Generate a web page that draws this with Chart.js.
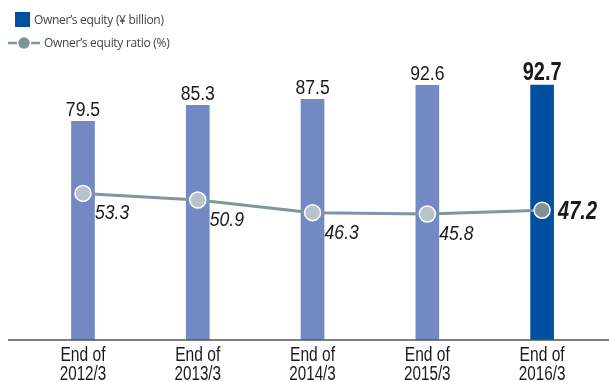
<!DOCTYPE html>
<html>
<head>
<meta charset="utf-8">
<script src="https://cdn.jsdelivr.net/npm/chart.js@4/dist/chart.umd.min.js"></script>
<style>
html,body{margin:0;padding:0;background:#fff;}
#wrap{position:relative;width:609px;height:382px;}
.leg{position:absolute;font-family:"Open Sans","DejaVu Sans",sans-serif;font-size:12px;color:#444;white-space:nowrap;letter-spacing:-0.3px;}
</style>
</head>
<body>
<div id="wrap">
<canvas id="chart" width="609" height="382"></canvas>
<div class="leg" style="left:15px;top:11px;"><span style="display:inline-block;width:15px;height:15px;background:#0050a0;vertical-align:-3px;margin-right:4px;"></span>Owner’s equity (¥ billion)</div>
<div class="leg" style="left:8px;top:34px;"><canvas id="legLine" width="32" height="16" style="vertical-align:-4px;margin-right:4px;"></canvas>Owner’s equity ratio (%)</div>
</div>
<script>
const categories=[["End of","2012/3"],["End of","2013/3"],["End of","2014/3"],["End of","2015/3"],["End of","2016/3"]];
const equity=[79.5,85.3,87.5,92.6,92.7];
const ratio=[53.3,50.9,46.3,45.8,47.2];

const fam='"Liberation Sans",Arial,sans-serif';

// legend line icon
const lc=document.getElementById("legLine").getContext("2d");
lc.strokeStyle="#7f959f";lc.lineWidth=2.5;
lc.beginPath();lc.moveTo(0,8);lc.lineTo(32,8);lc.stroke();
lc.fillStyle="#7f9199";lc.strokeStyle="#fff";lc.lineWidth=1.5;
lc.beginPath();lc.arc(16,8,6.5,0,Math.PI*2);lc.fill();lc.stroke();

// condensed look: squeeze text horizontally
function narrowText(c,txt,x,y,font,align,sx){
c.save();
c.font=font;
let w=c.measureText(txt).width*sx;
let left=align=="center"?x-w/2:x;
c.translate(left,y);
c.scale(sx,1);
c.textAlign="left";
c.fillText(txt,0,0);
c.restore();
}

const labelsPlugin={
id:"labelsPlugin",
afterDatasetsDraw(chart){
const c=chart.ctx;
const last=equity.length-1;
const xs=chart.scales.x;
c.save();
// baseline across full width
const y0=chart.scales.y.getPixelForValue(0);
c.strokeStyle="#555";c.lineWidth=1.5;
c.beginPath();c.moveTo(8,y0);c.lineTo(609,y0);c.stroke();

c.fillStyle="#1a1a1a";
c.textBaseline="alphabetic";
// category labels
categories.forEach((lab,i)=>{
const x=xs.getPixelForValue(i);
narrowText(c,lab[0],x,y0+21,"20px "+fam,"center",0.78);
narrowText(c,lab[1],x,y0+40,"20px "+fam,"center",0.76);
});

const bars=chart.getDatasetMeta(1).data;
bars.forEach((b,i)=>{
if(i==last) narrowText(c,equity[i].toFixed(1),b.x,b.y-5,"bold 25px "+fam,"center",0.8);
else narrowText(c,equity[i].toFixed(1),b.x,b.y-5,"20px "+fam,"center",0.88);
});
const pts=chart.getDatasetMeta(0).data;
pts.forEach((p,i)=>{
if(i==last) narrowText(c,ratio[i].toFixed(1),p.x+16,p.y+9,"italic bold 25px "+fam,"left",0.8);
else narrowText(c,ratio[i].toFixed(1),p.x+12,p.y+26,"italic 20px "+fam,"left",0.88);
});
c.restore();
}
};

new Chart(document.getElementById("chart"),{
type:"bar",
data:{
labels:categories,
datasets:[{
type:"line",
label:"Owner’s equity ratio (%)",
data:ratio,
borderColor:"#7f959f",
borderWidth:3,
pointRadius:8,
pointBorderColor:"#fff",
pointBorderWidth:1.5,
pointBackgroundColor:ratio.map((v,i)=>i==ratio.length-1?"#7f9199":"#b8c3c9"),
tension:0,
order:0
},{
label:"Owner’s equity (¥ billion)",
data:equity,
backgroundColor:equity.map((v,i)=>i==equity.length-1?"#0050a0":"#7389c4"),
barThickness:23,
order:1
}]
},
options:{
responsive:false,
animation:false,
layout:{padding:{left:25.6,right:2,top:65,bottom:42}},
plugins:{legend:{display:false},tooltip:{enabled:false}},
scales:{
x:{display:false},
y:{display:false,min:0,max:100}
}
},
plugins:[labelsPlugin]
});
</script>
</body>
</html>
